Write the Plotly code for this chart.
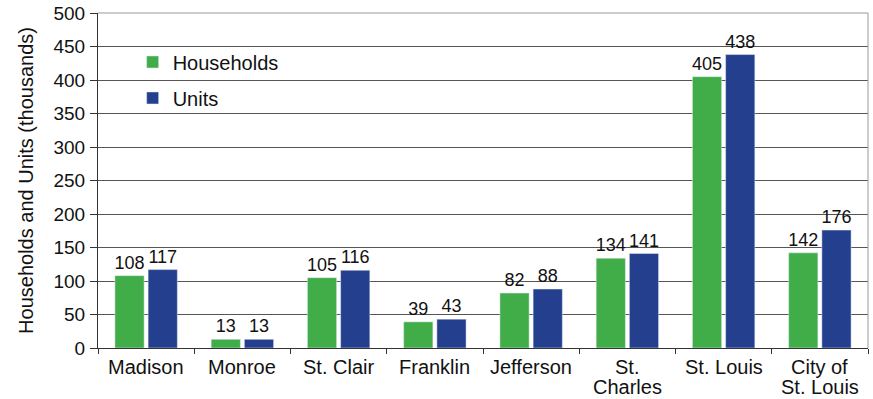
import plotly.graph_objects as go

# County-level housing data (thousands)
counties = ["Madison", "Monroe", "St. Clair", "Franklin", "Jefferson",
            "St. Charles", "St. Louis", "City of St. Louis"]
# category labels, split over lines as printed under the axis
label_lines = [["Madison"], ["Monroe"], ["St. Clair"], ["Franklin"],
               ["Jefferson"], ["St.", "Charles"], ["St. Louis"],
               ["City of", "St. Louis"]]
households = [108, 13, 105, 39, 82, 134, 405, 142]
units = [117, 13, 116, 43, 88, 141, 438, 176]

y_ticks = [0, 50, 100, 150, 200, 250, 300, 350, 400, 450, 500]

GREEN = "#41AD49"
BLUE = "#243F8E"
FONT = "Liberation Sans, Arial, sans-serif"
FS = 20        # category labels, legend, axis title
FS_TICK = 19   # y tick labels
FS_VAL = 18    # value labels above bars

fig = go.Figure()
fig.add_trace(go.Bar(
    x=counties, y=households, name="Households", marker_color=GREEN,
    text=households, textposition="outside", cliponaxis=False,
    constraintext="none",
    textfont=dict(size=FS_VAL, color="#111"), legendgroup="h",
))
fig.add_trace(go.Bar(
    x=counties, y=units, name="Units", marker_color=BLUE,
    text=units, textposition="outside", cliponaxis=False,
    constraintext="none",
    textfont=dict(size=FS_VAL, color="#111"), legendgroup="u",
))

# category labels below the x axis, one annotation per printed line
annotations = []
for cat, lines in zip(counties, label_lines):
    for i, line in enumerate(lines):
        annotations.append(dict(
            x=cat, xref="x", y=0, yref="paper", yanchor="top",
            yshift=-6 - 20 * i, text=line, showarrow=False,
            font=dict(size=FS, color="#111"),
        ))

fig.update_layout(
    width=873, height=399,
    margin=dict(l=98, r=5, t=13, b=51),
    paper_bgcolor="white", plot_bgcolor="white",
    font=dict(family=FONT, size=FS, color="#111"),
    barmode="group", bargap=0.31, bargroupgap=0.12,
    uniformtext=dict(mode=False),
    showlegend=True,
    legend=dict(
        x=0.045, y=0.912, xanchor="left", yanchor="top",
        bgcolor="rgba(0,0,0,0)", font=dict(size=FS),
        tracegroupgap=7, itemwidth=30,
    ),
    xaxis=dict(
        type="category", tickson="boundaries", ticks="outside",
        ticklen=5, tickcolor="#333", showline=True, linecolor="#333",
        linewidth=1, mirror=False, showgrid=False, automargin=False,
        showticklabels=False,
    ),
    yaxis=dict(
        range=[0, 500], tickvals=y_ticks, ticks="outside", ticklen=7,
        tickcolor="#333", showline=True, linecolor="#333", linewidth=1,
        showgrid=True, gridcolor="#555", gridwidth=1, zeroline=False,
        tickfont=dict(size=FS_TICK), ticklabelstandoff=1, automargin=False,
        title=dict(text="Households and Units (thousands)",
                   font=dict(size=FS), standoff=14),
    ),
    annotations=annotations,
    shapes=[
        # light frame on top and right edges of the plot area
        dict(type="line", xref="paper", yref="paper", x0=0, x1=1, y0=1, y1=1,
             line=dict(color="#999", width=1)),
        dict(type="line", xref="paper", yref="paper", x0=1, x1=1, y0=0, y1=1,
             line=dict(color="#999", width=1)),
    ],
)

fig.write_html("out.html")
